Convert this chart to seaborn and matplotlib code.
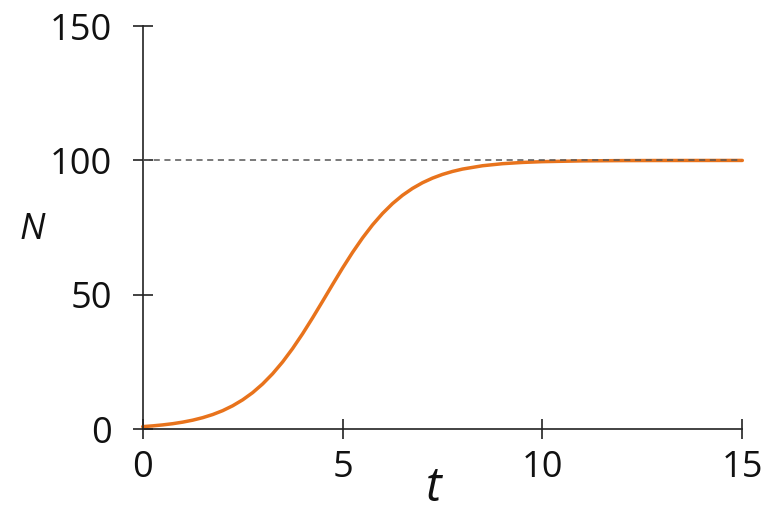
import matplotlib
matplotlib.use("Agg")
import matplotlib.pyplot as plt
import seaborn as sns
import pandas as pd

# Data (logistic growth curve)
t_values = [0, 0.25, 0.5, 0.75, 1, 1.25, 1.5, 1.75, 2, 2.25, 2.5, 2.75, 3, 3.25,
            3.5, 3.75, 4, 4.25, 4.5, 4.75, 5, 5.25, 5.5, 5.75, 6, 6.25, 6.5,
            6.75, 7, 7.25, 7.5, 7.75, 8, 8.5, 9, 9.5, 10, 11, 12, 13, 14, 15]
N_values = [1.00, 1.28, 1.64, 2.09, 2.67, 3.40, 4.33, 5.49, 6.94, 8.75, 10.96,
            13.64, 16.87, 20.67, 25.06, 30.05, 35.55, 41.46, 47.62, 53.86,
            59.99, 65.81, 71.19, 76.04, 80.29, 83.96, 87.05, 89.61, 91.72,
            93.43, 94.81, 95.91, 96.79, 98.03, 98.79, 99.26, 99.55, 99.84,
            99.94, 99.98, 99.99, 100.0]
capacity = 100
x_ticks = [0, 5, 10, 15]
y_ticks = [0, 50, 100, 150]

df = pd.DataFrame({"t": t_values, "N": N_values})

sns.set_theme(style="white")
plt.rcParams["font.family"] = ["Open Sans", "DejaVu Sans"]

fig = plt.figure(figsize=(7.71, 5.12), dpi=100)
ax = fig.add_axes([0.1851, 0.1615, 0.9628 - 0.1851, 0.9492 - 0.1615])

sns.lineplot(data=df, x="t", y="N", ax=ax, color="#e8731c", linewidth=2.5,
             zorder=2, clip_on=False)
ax.axhline(capacity, color="#555555", linewidth=1.1, linestyle=(0, (4, 3)),
           zorder=3)

ax.set_xlim(0, 15)
ax.set_ylim(0, 150)
ax.set_xticks(x_ticks)
ax.set_yticks(y_ticks)
ax.set_xticklabels([str(v) for v in x_ticks])
ax.set_yticklabels([str(v) for v in y_ticks])

for side in ["top", "right"]:
    ax.spines[side].set_visible(False)
for side in ["left", "bottom"]:
    ax.spines[side].set_color("#222222")
    ax.spines[side].set_linewidth(1.2)

ax.tick_params(axis="both", which="major", bottom=True, left=True,
               direction="inout", length=14, width=1.2,
               color="#222222", labelsize=26, labelcolor="#111111")
ax.tick_params(axis="y", pad=15)
ax.tick_params(axis="x", pad=8)

ax.set_xlabel("t", fontsize=34, fontstyle="italic", color="#111111", va="center")
ax.set_ylabel("N", fontsize=26, fontstyle="italic", color="#111111",
              rotation=0, va="center", ha="center")
ax.xaxis.set_label_coords(0.486, -0.145)
ax.yaxis.set_label_coords(-0.185, 0.494)

fig.savefig("out.png", dpi=100)
